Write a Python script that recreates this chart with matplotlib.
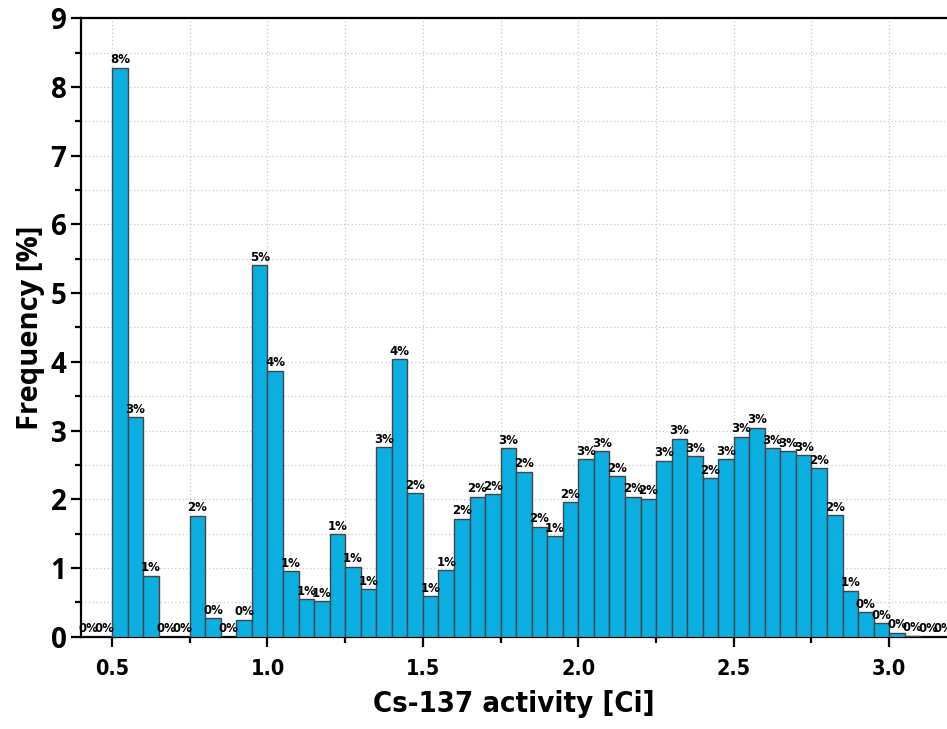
import numpy as np
import matplotlib.pyplot as plt
from matplotlib.ticker import MultipleLocator

# bin left edges (width 0.05 Ci) and frequencies [%]
bin_width = 0.05
bin_left = np.round(np.arange(0.40, 3.20, bin_width), 2)
freq = [0.0, 0.0, 8.28, 3.19, 0.89, 0.0, 0.0, 1.76, 0.27, 0.0,
        0.25, 5.41, 3.87, 0.95, 0.55, 0.52, 1.49, 1.02, 0.69, 2.76,
        4.04, 2.09, 0.59, 0.97, 1.72, 2.04, 2.07, 2.74, 2.40, 1.60,
        1.46, 1.96, 2.58, 2.70, 2.34, 2.04, 2.01, 2.56, 2.88, 2.63,
        2.31, 2.58, 2.91, 3.04, 2.74, 2.70, 2.64, 2.45, 1.77, 0.67,
        0.355, 0.195, 0.06, 0.015, 0.0, 0.0]
labels = [f"{v:.0f}%" for v in freq]

fig = plt.figure(figsize=(9.47, 7.29), dpi=100)
ax = fig.add_axes([0.0855, 0.1266, 0.9145, 0.8484])

bars = ax.bar(bin_left, freq, width=bin_width, align='edge',
              color='#0aaee0', edgecolor='#444444', linewidth=1.0, zorder=3)
for b, lab in zip(bars, labels):
    ax.text(b.get_x() + b.get_width() / 2, b.get_height() + 0.02, lab,
            ha='center', va='bottom', fontsize=8.5, fontweight='bold',
            family='DejaVu Sans', zorder=4)

ax.set_xlim(0.40, 3.186)
ax.set_ylim(0, 9)
ax.xaxis.set_minor_locator(MultipleLocator(0.25))
ax.yaxis.set_major_locator(MultipleLocator(1))
ax.yaxis.set_minor_locator(MultipleLocator(0.5))
ax.set_xticks(np.arange(0.5, 3.01, 0.5))
ax.set_xticklabels([f"{t:.1f}" for t in np.arange(0.5, 3.01, 0.5)])

ax.grid(True, which='both', linestyle=(0, (1, 2)), color='#c8c8c8', linewidth=0.9)
ax.set_axisbelow(True)

ax.tick_params(which='major', direction='out', length=7, width=1.6)
ax.tick_params(which='minor', direction='out', length=4, width=1.6)
ax.tick_params(axis='x', pad=9)
ax.spines['right'].set_visible(False)
for s in ['left', 'bottom', 'top']:
    ax.spines[s].set_linewidth(1.6)

for t in ax.get_yticklabels():
    t.set_family(['Open Sans', 'DejaVu Sans'])
    t.set_fontweight('bold')
    t.set_fontsize(20)
for t in ax.get_xticklabels():
    t.set_family('DejaVu Sans')
    t.set_stretch('condensed')
    t.set_fontweight('bold')
    t.set_fontsize(15.5)

ax.set_xlabel('Cs-137 activity [Ci]', family='DejaVu Sans', fontstretch='condensed',
              fontsize=21, fontweight='bold', labelpad=8)
ax.set_ylabel('Frequency [%]', family=['Open Sans', 'DejaVu Sans'],
              fontsize=21, fontweight='bold', labelpad=4)

fig.savefig('out.png', dpi=100)
